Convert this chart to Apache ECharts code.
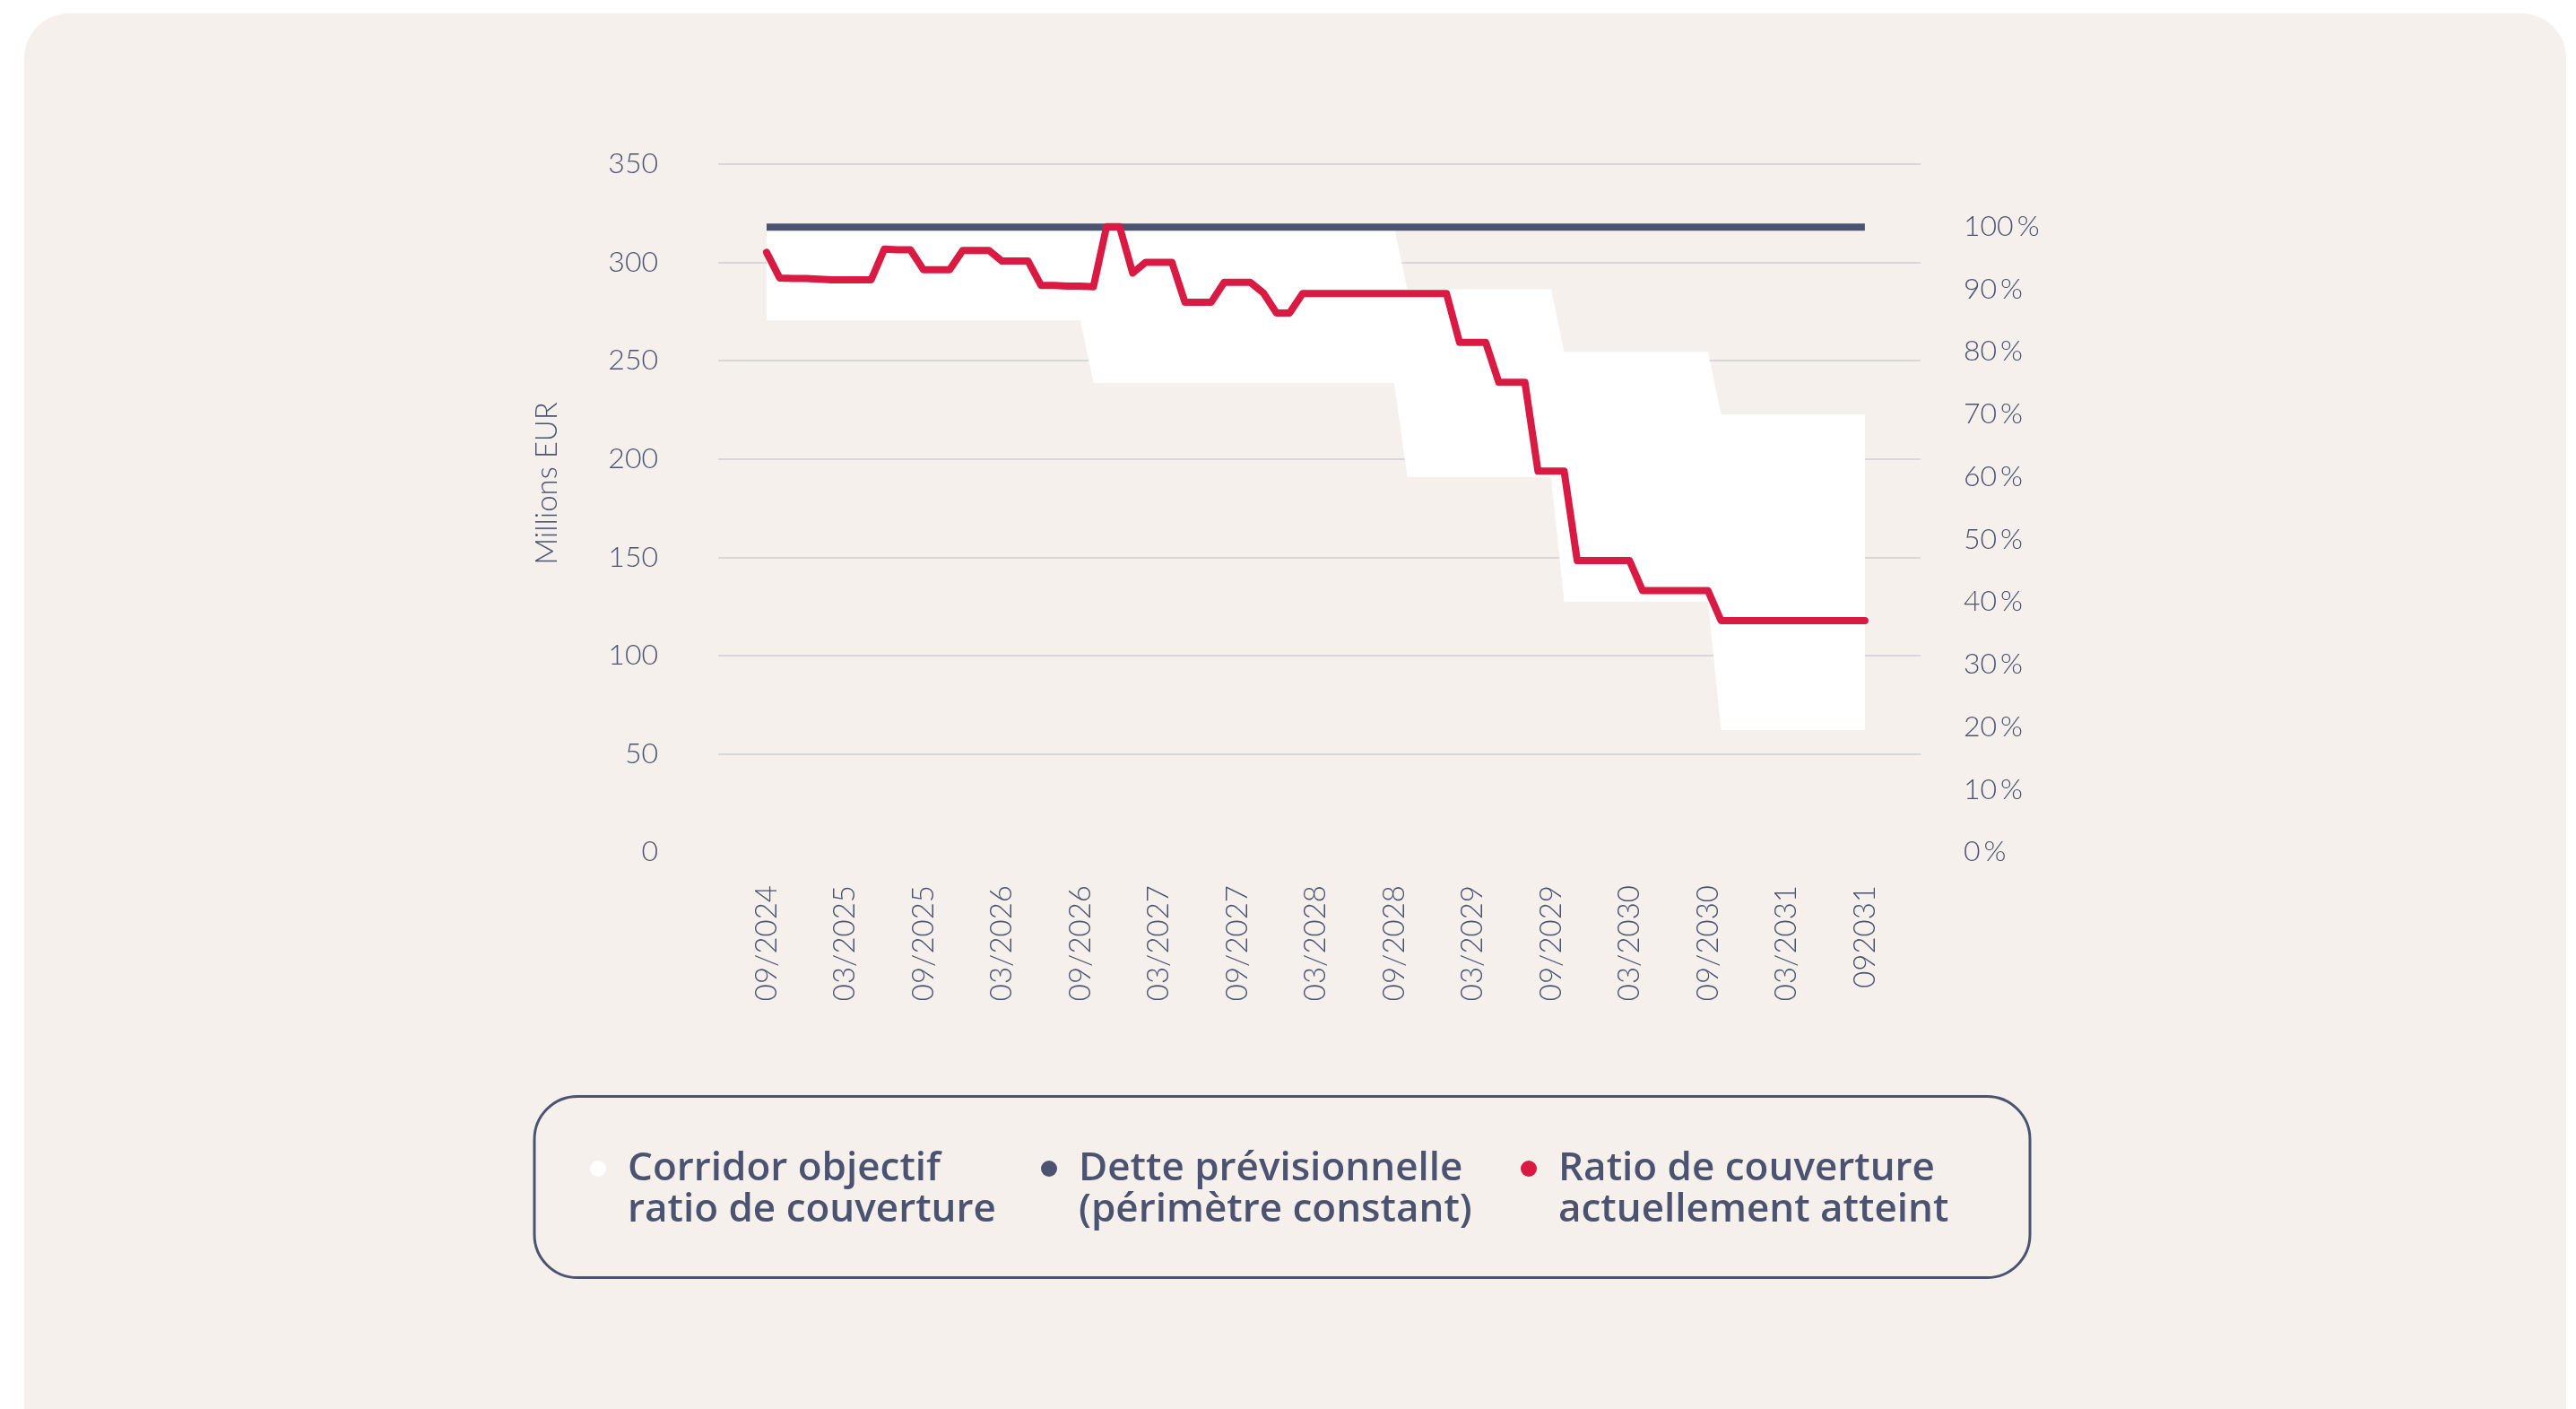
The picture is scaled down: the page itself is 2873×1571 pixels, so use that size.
<!DOCTYPE html>
<html>
<head>
<meta charset="utf-8">
<title>Ratio de couverture</title>
<script src="https://cdn.jsdelivr.net/npm/echarts@6/dist/echarts.min.js"></script>
<style>
    html, body { margin: 0; padding: 0; background: #fff; }
    #card {
        position: absolute; left: 27px; top: 15px;
        width: 2835px; height: 1556px;
        background: #F5F0EC;
        border-radius: 50px 50px 0 0;
    }
    #chart { position: absolute; left: 0; top: 0; width: 2873px; height: 1571px; }
</style>
</head>
<body>
<div id="card"></div>
<div id="chart"></div>
<script>
    // axis labels, one every 6 months starting 09/2024 (label text kept as printed)
    const tickLabels = ['09/2024', '03/2025', '09/2025', '03/2026', '09/2026', '03/2027', '09/2027', '03/2028',
        '09/2028', '03/2029', '09/2029', '03/2030', '09/2030', '03/2031', '092031'];

    // monthly values, 09/2024 -> 09/2031, in % of the forecast debt
    const ratio = [
        95.9, 91.8, 91.7, 91.7, 91.6, 91.5, 91.5, 91.5, 91.5, 96.4, 96.3, 96.3,
        93.1, 93.1, 93.1, 96.2, 96.2, 96.2, 94.5, 94.5, 94.5, 90.6, 90.6, 90.5,
        90.5, 90.4, 100, 100, 92.6, 94.3, 94.3, 94.3, 87.9, 87.9, 87.9, 91.1,
        91.1, 91.1, 89.4, 86.2, 86.2, 89.3, 89.3, 89.3, 89.3, 89.3, 89.3, 89.3,
        89.3, 89.3, 89.3, 89.3, 89.3, 81.5, 81.5, 81.5, 75.1, 75.1, 75.1, 60.9,
        60.9, 60.9, 46.6, 46.6, 46.6, 46.6, 46.6, 41.8, 41.8, 41.8, 41.8, 41.8,
        41.8, 37.0, 37.0, 37.0, 37.0, 37.0, 37.0, 37.0, 37.0, 37.0, 37.0, 37.0,
        37.0
    ];
    const corridorLow = [
        85, 85, 85, 85, 85, 85, 85, 85, 85, 85, 85, 85,
        85, 85, 85, 85, 85, 85, 85, 85, 85, 85, 85, 85,
        85, 75, 75, 75, 75, 75, 75, 75, 75, 75, 75, 75,
        75, 75, 75, 75, 75, 75, 75, 75, 75, 75, 75, 75,
        75, 60, 60, 60, 60, 60, 60, 60, 60, 60, 60, 60,
        60, 40, 40, 40, 40, 40, 40, 40, 40, 40, 40, 40,
        40, 19.5, 19.5, 19.5, 19.5, 19.5, 19.5, 19.5, 19.5, 19.5, 19.5, 19.5,
        19.5
    ];
    const corridorHigh = [
        100, 100, 100, 100, 100, 100, 100, 100, 100, 100, 100, 100,
        100, 100, 100, 100, 100, 100, 100, 100, 100, 100, 100, 100,
        100, 100, 100, 100, 100, 100, 100, 100, 100, 100, 100, 100,
        100, 100, 100, 100, 100, 100, 100, 100, 100, 100, 100, 100,
        100, 90, 90, 90, 90, 90, 90, 90, 90, 90, 90, 90,
        90, 80, 80, 80, 80, 80, 80, 80, 80, 80, 80, 80,
        80, 70, 70, 70, 70, 70, 70, 70, 70, 70, 70, 70,
        70
    ];
    // forecast debt (Millions EUR), flat from first to last month
    const debtMonths = [0, 84];
    const debt = [318, 318];

    const names = ['Corridor objectif\nratio de couverture', 'Dette prévisionnelle\n(périmètre constant)', 'Ratio de couverture\nactuellement atteint'];

    const dark = '#4B5370';
    const red = '#D91A42';
    const tickMonths = tickLabels.map((_, i) => i * 6);

    let chart = echarts.init(document.getElementById('chart'));

    const legendAt = (name, left) => ({
        data: [name],
        left: left,
        top: 1234,
        padding: 0,
        icon: 'circle',
        itemWidth: 18,
        itemHeight: 18,
        selectedMode: false,
        // empty first line so the dot sits on the first text line
        formatter: n => '\n' + n,
        textStyle: {
            fontFamily: 'Open Sans',
            fontSize: 44,
            fontWeight: 600,
            color: dark,
            lineHeight: 46,
            padding: [0, 0, 0, 19]
        }
    });

    // white corridor band between low and high bounds
    function renderCorridor(params, api) {
        if (params.dataIndex !== 0) return;
        const pts = [];
        for (let i = 0; i < corridorHigh.length; i++) pts.push(api.coord([i, corridorHigh[i]]));
        for (let i = corridorLow.length - 1; i >= 0; i--) pts.push(api.coord([i, corridorLow[i]]));
        return {
            type: 'polygon',
            shape: { points: pts },
            style: { fill: '#FFFFFF' }
        };
    }

    const option = {
        animation: false,
        grid: { left: 801, right: 731, top: 183, bottom: 621 },
        xAxis: {
            type: 'value',
            min: -3.7,
            max: 88.26,
            axisLine: { show: false },
            axisTick: { show: false },
            splitLine: { show: false },
            axisLabel: {
                customValues: tickMonths,
                formatter: v => tickLabels[tickMonths.indexOf(v)],
                rotate: 90,
                margin: 37,
                fontFamily: 'Lato',
                fontWeight: 300,
                fontSize: 33,
                color: dark
            }
        },
        yAxis: [{
            type: 'value',
            min: 0,
            max: 350,
            interval: 50,
            axisLine: { show: false },
            axisTick: { show: false },
            splitLine: { showMinLine: false, lineStyle: { color: '#D9D7DB', width: 2 } },
            axisLabel: { margin: 67, fontFamily: 'Lato', fontWeight: 300, fontSize: 32, color: dark }
        }, {
            type: 'value',
            position: 'right',
            min: 0,
            max: 110,
            interval: 10,
            axisLine: { show: false },
            axisTick: { show: false },
            splitLine: { show: false },
            axisLabel: {
                margin: 48,
                fontFamily: 'Lato',
                fontWeight: 300,
                fontSize: 32,
                color: dark,
                formatter: v => (v > 100 ? '' : v + '\u2009%')
            }
        }],
        legend: [
            legendAt(names[0], 658),
            legendAt(names[1], 1161),
            legendAt(names[2], 1696)
        ],
        graphic: [{
            type: 'rect',
            shape: { x: 596, y: 1222.5, width: 1668, height: 202, r: 48 },
            style: { fill: 'none', stroke: dark, lineWidth: 3 }
        }, {
            type: 'text',
            x: 610,
            y: 539,
            rotation: Math.PI / 2,
            style: {
                text: 'Millions EUR',
                fontFamily: 'Lato',
                fontWeight: 300,
                fontSize: 33,
                fill: dark,
                align: 'center',
                verticalAlign: 'middle'
            }
        }],
        series: [{
            name: names[0],
            type: 'custom',
            yAxisIndex: 1,
            silent: true,
            color: '#FFFFFF',
            itemStyle: { color: '#FFFFFF' },
            renderItem: renderCorridor,
            encode: { x: 0, y: [1, 2] },
            data: corridorHigh.map((v, i) => [i, corridorLow[i], v]),
            z: 1
        }, {
            name: names[1],
            type: 'line',
            yAxisIndex: 0,
            symbol: 'none',
            color: dark,
            itemStyle: { color: dark },
            lineStyle: { color: dark, width: 8, cap: 'butt' },
            z: 3,
            data: debtMonths.map((m, i) => [m, debt[i]])
        }, {
            name: names[2],
            type: 'line',
            yAxisIndex: 1,
            symbol: 'none',
            color: red,
            itemStyle: { color: red },
            lineStyle: { color: red, width: 8, cap: 'round', join: 'round' },
            z: 4,
            data: ratio.map((v, i) => [i, v])
        }]
    };

    chart.setOption(option);
</script>
</body>
</html>
